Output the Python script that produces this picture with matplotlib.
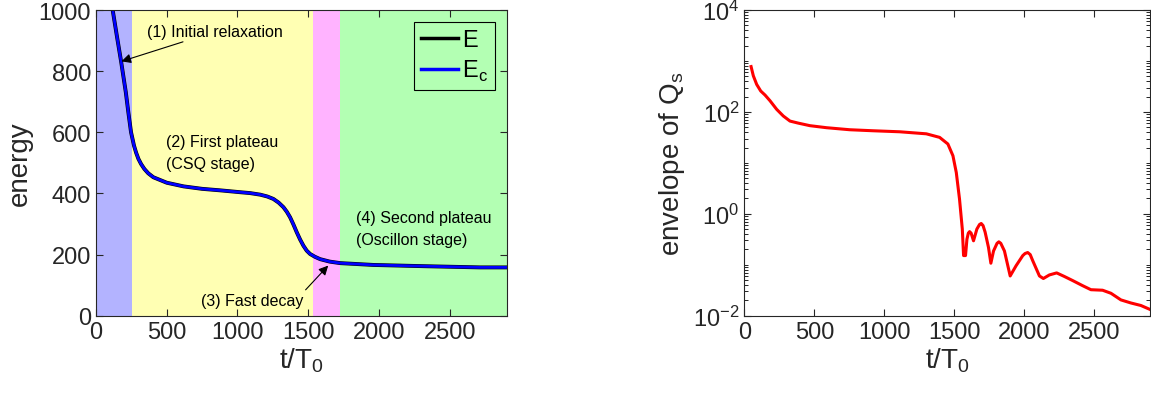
import numpy as np
import matplotlib.pyplot as plt
from matplotlib.ticker import FixedLocator, NullFormatter

plt.rcParams['font.family'] = ['Liberation Sans', 'DejaVu Sans']

# left panel: energy vs t/T0
t_E = [108, 120, 150, 179, 212, 230, 249, 260, 270, 285, 301, 320, 343, 370, 406,
       501, 620, 750, 880, 1018, 1090, 1160, 1210, 1253, 1290, 1324, 1348, 1371,
       1395, 1418, 1442, 1465, 1488, 1512, 1545, 1583, 1650, 1724, 1959, 2312,
       2712, 2900]
E_vals = [1060, 998, 912, 831, 731, 665, 600, 577, 556, 533, 513, 496, 480, 466, 453,
          435, 423, 415, 410, 404, 401, 396, 390, 382, 370, 355, 340, 322,
          298, 273, 249, 229, 213, 202, 193, 185, 177, 172, 166, 162,
          158, 158]

# stage boundaries
stage_edges = [0, 254, 1536, 1724, 2900]
stage_colors = ['#b3b3ff', '#ffffb3', '#ffb3ff', '#b3ffb3']

# right panel: envelope of Q_s (log10 values)
t_Q = [48, 64, 88, 117, 148, 183, 231, 278, 326, 385, 468, 587, 753, 919, 1110,
       1300, 1395, 1454, 1490, 1514, 1537, 1557, 1566, 1580, 1590, 1600, 1609, 1620,
       1637, 1661, 1680, 1692, 1705, 1720, 1744, 1761, 1780, 1805, 1818, 1832, 1858,
       1899, 1941, 1989, 2005, 2024, 2042, 2060, 2108, 2136, 2179, 2231, 2286, 2345,
       2416, 2476, 2559, 2619, 2690, 2761, 2833, 2900]
logQ = [2.89, 2.71, 2.54, 2.41, 2.33, 2.22, 2.05, 1.92, 1.82, 1.78, 1.73, 1.69, 1.65, 1.63, 1.61,
        1.57, 1.50, 1.37, 1.14, 0.81, 0.29, -0.30, -0.82, -0.82, -0.50, -0.38, -0.35, -0.38,
        -0.53, -0.30, -0.21, -0.19, -0.23, -0.36, -0.66, -0.97, -0.73, -0.58, -0.55, -0.58, -0.73,
        -1.22, -1.02, -0.82, -0.78, -0.76, -0.80, -0.92, -1.22, -1.27, -1.20, -1.16, -1.23, -1.31,
        -1.41, -1.49, -1.50, -1.56, -1.69, -1.75, -1.80, -1.88]

axcol = '#262626'
fig = plt.figure(figsize=(11.51, 4.02), dpi=100)
ax1 = fig.add_axes([0.0832, 0.2122, 0.3571, 0.7604])
ax2 = fig.add_axes([0.6467, 0.2122, 0.3527, 0.7604])

for i in range(len(stage_colors)):
    ax1.axvspan(stage_edges[i], stage_edges[i + 1], color=stage_colors[i], lw=0, zorder=0)

ax1.plot(t_E, E_vals, color='black', lw=2.8, label='E', zorder=2, solid_joinstyle='round')
ax1.plot(t_E, E_vals, color='blue', lw=2.0, label='E$_\\mathregular{c}$', zorder=3,
         solid_joinstyle='round')
ax1.set_xlim(0, 2900)
ax1.set_ylim(0, 1000)
ax1.set_xticks([0, 500, 1000, 1500, 2000, 2500])
ax1.set_yticks([0, 200, 400, 600, 800, 1000])
ax1.set_xlabel('t/T$_\\mathregular{0}$', fontsize=20, color=axcol, labelpad=2)
ax1.set_ylabel('energy', fontsize=20, color=axcol, labelpad=4)

leg = ax1.legend(loc='upper right', fontsize=17, frameon=True, fancybox=False,
                 edgecolor='black', framealpha=1, facecolor='none',
                 handlelength=1.6, handletextpad=0.15, borderaxespad=0.5,
                 borderpad=0.3, labelspacing=0.3)
leg.get_frame().set_linewidth(0.8)
leg.legend_handles[0].set_linewidth(2.5)
leg.legend_handles[1].set_linewidth(2.5)

fs = 11.5
ax1.annotate('(1) Initial relaxation', xy=(181, 832), xytext=(365, 905),
             fontsize=fs, color='black', va='bottom', ha='left',
             arrowprops=dict(arrowstyle='-|>', color='black', lw=0.8, shrinkA=0, shrinkB=0,
                             mutation_scale=14))
ax1.text(495, 535, '(2) First plateau\n(CSQ stage)', fontsize=fs, ha='left', va='center',
         linespacing=1.6)
ax1.annotate('(3) Fast decay', xy=(1640, 164), xytext=(740, 51),
             fontsize=fs, color='black', va='center', ha='left',
             arrowprops=dict(arrowstyle='-|>', color='black', lw=0.8, shrinkA=0, shrinkB=0,
                             mutation_scale=14, relpos=(1.0, 1.0)))
ax1.text(1838, 284, '(4) Second plateau\n(Oscillon stage)', fontsize=fs, ha='left', va='center',
         linespacing=1.6)

ax2.plot(t_Q, 10 ** np.array(logQ), color='red', lw=2.2, solid_joinstyle='round')
ax2.set_yscale('log')
ax2.set_xlim(0, 2900)
ax2.set_ylim(1e-2, 1e4)
ax2.set_xticks([0, 500, 1000, 1500, 2000, 2500])
ax2.set_yticks([1e-2, 1e0, 1e2, 1e4])
ax2.yaxis.set_minor_locator(FixedLocator(
    [m * 10.0 ** k for k in range(-2, 4) for m in range(2, 11) if m * 10.0 ** k < 1e4]))
ax2.yaxis.set_minor_formatter(NullFormatter())
ax2.set_xlabel('t/T$_\\mathregular{0}$', fontsize=20, color=axcol, labelpad=2)
ax2.set_ylabel('envelope of Q$_\\mathregular{s}$', fontsize=20, color=axcol, labelpad=4)

for ax in (ax1, ax2):
    ax.tick_params(direction='in', top=True, right=True, labelsize=17, colors=axcol,
                   length=5, width=0.8)
    ax.tick_params(which='minor', direction='in', right=True, length=3, width=0.6)
    for s in ax.spines.values():
        s.set_color(axcol)
        s.set_linewidth(0.8)
        s.set_zorder(5)

fig.savefig('out.png', dpi=100)
